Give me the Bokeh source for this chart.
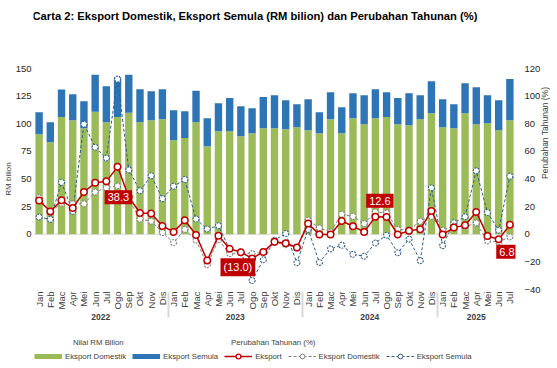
import math
from bokeh.plotting import figure
from bokeh.layouts import column
from bokeh.models import (ColumnDataSource, FactorRange, Range1d, LinearAxis, FixedTicker,
                          Span, Legend, LegendItem, Label)
from bokeh.core.properties import value
from bokeh.embed import file_html
from bokeh.resources import INLINE

FONT = "Liberation Sans"

years = ["2022"] * 12 + ["2023"] * 12 + ["2024"] * 12 + ["2025"] * 7
months = ["Jan", "Feb", "Mac", "Apr", "Mei", "Jun", "Jul", "Ogo", "Sep", "Okt", "Nov", "Dis"]
month_labels = months * 3 + months[:7]

# RM bilion
domestik = [90.5, 83.3, 106.0, 103.2, 96.0, 110.8, 101.4, 106.0, 110.0, 101.4, 103.2, 104.0,
            85.1, 87.0, 101.4, 79.7, 93.3, 93.3, 88.7, 91.4, 96.0, 96.0, 95.1, 96.9,
            94.2, 91.4, 104.1, 91.4, 105.0, 99.6, 105.0, 106.0, 99.6, 98.7, 104.1, 109.6,
            96.9, 96.0, 109.6, 99.6, 100.5, 94.2, 103.2]
semula = [20.0, 18.1, 25.0, 23.6, 24.4, 33.5, 32.6, 36.0, 34.3, 29.9, 26.3, 27.3,
          27.2, 24.4, 28.4, 25.3, 25.3, 29.9, 27.2, 22.7, 28.1, 29.9, 26.2, 20.8,
          28.0, 19.1, 24.5, 23.6, 22.7, 26.3, 26.3, 22.6, 23.6, 29.0, 21.8, 28.9,
          25.3, 21.7, 27.1, 33.5, 25.4, 27.1, 37.2]

# Perubahan tahunan (%)
eksport_pct = [24.5, 16.5, 24.6, 19.0, 30.6, 37.2, 38.3, 48.8, 27.0, 15.4, 15.0, 6.0,
               1.7, 10.1, -0.5, -19.0, -1.0, -10.5, -13.0, -17.5, -12.8, -5.5, -6.5, -9.6,
               7.7, -0.2, -0.2, 9.6, 5.8, 1.7, 12.6, 12.5, -0.2, 2.5, 3.6, 16.9,
               -0.2, 4.8, 6.5, 16.1, -1.2, -3.6, 6.8]
domestik_pct = [26.5, 16.0, 22.5, 22.0, 22.0, 30.6, 33.7, 35.0, 25.0, 11.0, 9.5, 1.2,
                -6.0, 3.5, -4.3, -22.0, -4.0, -14.0, -13.5, -14.0, -13.0, -6.0, -7.5, -10.0,
                10.1, 4.6, 1.7, 14.5, 13.0, 7.7, 16.1, 15.4, 3.4, 3.0, 9.4, 13.0,
                2.9, 6.0, 5.3, 8.2, -4.8, -5.5, -1.9]
semula_pct = [12.5, 10.8, 37.6, 16.6, 79.7, 63.0, 55.2, 112.3, 46.6, 31.5, 42.4, 25.8,
              34.8, 39.6, 11.0, 3.8, 6.2, -11.0, -12.8, -33.5, -18.5, -4.3, 0.5, -20.6,
              3.5, -20.4, -10.6, -8.0, -14.5, -15.9, -6.3, -0.7, -13.4, -3.5, -19.1, 33.6,
              -8.2, 8.3, 12.7, 45.9, 15.7, 2.9, 42.0]

label_idx = [6, 18, 30, 42]
label_text = ["38.3", "(13.0)", "12.6", "6.8"]

left_ticks = [0, 25, 50, 75, 100, 125, 150]
right_ticks = [-40, -20, 0, 20, 40, 60, 80, 100, 120]

TITLE = "Carta 2: Eksport Domestik, Eksport Semula (RM bilion) dan Perubahan Tahunan (%)"
GREEN = "#9BBB59"
BLUE = "#2E75B6"
RED = "#C00000"
GRAY = "#7F7F7F"
DBLUE = "#2E5C8A"
TXT = "#404040"

x = list(zip(years, month_labels))
src = ColumnDataSource(dict(x=x, dom=domestik, sem=semula, ek=eksport_pct,
                            dp=domestik_pct, sp=semula_pct))


def strip(h):
    f = figure(width=557, height=h, x_range=Range1d(0, 488), y_range=Range1d(0, h),
               output_backend="svg", toolbar_location=None, x_axis_type=None,
               y_axis_type=None, min_border=0)
    f.outline_line_color = None
    f.xgrid.grid_line_color = None
    f.ygrid.grid_line_color = None
    return f


# ---- title strip
tf = strip(24)
tf.add_layout(Label(x=-1, y=15, text=TITLE, text_font=FONT, text_font_size="11.2px",
                    text_font_style="bold", text_baseline="top", text_color="black"))

# ---- main chart
p = figure(x_range=FactorRange(*x, group_padding=0, factor_padding=0, subgroup_padding=0,
                               range_padding=0),
           y_range=Range1d(-50, 150), width=557, height=310,
           output_backend="svg", toolbar_location=None,
           min_border_left=28, min_border_right=39, min_border_top=44, min_border_bottom=45)
p.extra_y_ranges = {"pct": Range1d(-40, 120)}
p.outline_line_color = None
p.xgrid.grid_line_color = None
p.ygrid.grid_line_color = None

p.add_layout(Span(location=0, dimension="width", line_color="#D9D9D9", line_width=1,
                  level="underlay"))

bars = p.vbar_stack(["dom", "sem"], x="x", width=0.66, color=[GREEN, BLUE],
                    line_color=None, source=src)

p.line("x", "sp", source=src, y_range_name="pct", line_color=DBLUE, line_width=1,
       line_dash="3 2")
p.scatter("x", "sp", source=src, y_range_name="pct", size=6, fill_color="white",
          line_color=DBLUE, line_width=1.1, line_dash="2 1")
p.line("x", "dp", source=src, y_range_name="pct", line_color=GRAY, line_width=1,
       line_dash="3 2")
p.scatter("x", "dp", source=src, y_range_name="pct", size=6, fill_color="white",
          line_color=GRAY, line_width=1.1, line_dash="2 1")
p.line("x", "ek", source=src, y_range_name="pct", line_color=RED, line_width=1.5)
p.scatter("x", "ek", source=src, y_range_name="pct", size=6.5, fill_color="white",
          line_color=RED, line_width=1.5)

lab_src = ColumnDataSource(dict(x=[x[i] for i in label_idx],
                                y=[eksport_pct[i] for i in label_idx],
                                t=label_text,
                                xo=[12, -3, 4.5, -3], yo=[16, 15, -16, 27]))
p.text("x", "y", text="t", source=lab_src, y_range_name="pct", x_offset="xo", y_offset="yo",
       text_align="center", text_baseline="middle", text_color="white",
       text_font=value(FONT), text_font_size="11px",
       background_fill_color=RED, padding=3)

ya = p.yaxis[0]
ya.ticker = FixedTicker(ticks=left_ticks)
ya.axis_line_color = None
ya.major_tick_line_color = None
ya.minor_tick_line_color = None
ya.major_tick_out = 0
ya.major_tick_in = 0
ya.major_label_text_font = FONT
ya.major_label_text_font_size = "9.5px"
ya.major_label_text_color = "#262626"
ya.major_label_standoff = 2
ya.axis_label = "RM bilion"
ya.axis_label_text_font = FONT
ya.axis_label_text_font_size = "8px"
ya.axis_label_text_font_style = "normal"
ya.axis_label_text_color = TXT
ya.axis_label_standoff = 0

ra = LinearAxis(y_range_name="pct", ticker=FixedTicker(ticks=right_ticks))
ra.axis_line_color = None
ra.major_tick_line_color = None
ra.minor_tick_line_color = None
ra.major_tick_out = 0
ra.major_tick_in = 0
ra.major_label_text_font = FONT
ra.major_label_text_font_size = "9.5px"
ra.major_label_text_color = "#262626"
ra.major_label_standoff = 9
ra.axis_label = "Perubahan Tahunan (%)"
ra.axis_label_text_font = FONT
ra.axis_label_text_font_size = "8.5px"
ra.axis_label_text_font_style = "normal"
ra.axis_label_text_color = TXT
ra.axis_label_standoff = 1
try:
    ra.axis_label_orientation = math.pi / 2
except Exception:
    pass
p.add_layout(ra, "right")

xa = p.xaxis[0]
xa.axis_line_color = None
xa.major_tick_line_color = None
xa.minor_tick_line_color = None
xa.major_tick_out = 0
xa.major_tick_in = 0
xa.major_label_orientation = math.pi / 2
xa.major_label_text_font = FONT
xa.major_label_text_font_size = "9.5px"
xa.major_label_text_color = TXT
xa.group_text_font = FONT
xa.group_text_font_size = "8.5px"
xa.group_text_color = TXT
xa.separator_line_color = "#D9D9D9"
xa.major_label_standoff = 2

# ---- legend strip (legend-only, hidden copies of the series)
lg = strip(34)
h1 = lg.line("dom", "sem", source=src, line_color=GREEN, line_width=5, visible=False)
h2 = lg.line("dom", "sem", source=src, line_color=BLUE, line_width=5, visible=False)
h3a = lg.line("dom", "ek", source=src, line_color=RED, line_width=1.5, visible=False)
h3b = lg.scatter("dom", "ek", source=src, fill_color="white", line_color=RED,
                 line_width=1.2, visible=False)
h4a = lg.line("dom", "dp", source=src, line_color=GRAY, line_width=1, line_dash="3 2",
              visible=False)
h4b = lg.scatter("dom", "dp", source=src, fill_color="white", line_color=GRAY,
                 line_width=1, visible=False)
h5a = lg.line("dom", "sp", source=src, line_color=DBLUE, line_width=1, line_dash="3 2",
              visible=False)
h5b = lg.scatter("dom", "sp", source=src, fill_color="white", line_color=DBLUE,
                 line_width=1, visible=False)

legend = Legend(items=[
    LegendItem(label="Eksport Domestik", renderers=[h1]),
    LegendItem(label="Eksport Semula", renderers=[h2]),
    LegendItem(label="Eksport", renderers=[h3a, h3b]),
    LegendItem(label="Eksport Domestik", renderers=[h4a, h4b]),
    LegendItem(label="Eksport Semula", renderers=[h5a, h5b]),
], location=(1, 6), orientation="horizontal", glyph_width=28, glyph_height=12,
    label_text_font=FONT, label_text_font_size="7.8px", label_text_color=TXT,
    label_standoff=3, spacing=6, padding=0, margin=0, border_line_color=None,
    background_fill_alpha=0, label_height=10, inactive_fill_alpha=0)
lg.add_layout(legend)

lg.add_layout(Label(x=40, y=31, text="Nilai RM Bilion", text_font=FONT,
                    text_font_size="7.8px", text_baseline="top", text_color=TXT))
lg.add_layout(Label(x=200, y=31, text="Perubahan Tahunan (%)", text_font=FONT,
                    text_font_size="7.8px", text_baseline="top", text_color=TXT))

layout = column(tf, p, lg, spacing=0)
open("out.html", "w").write(file_html(layout, INLINE))
